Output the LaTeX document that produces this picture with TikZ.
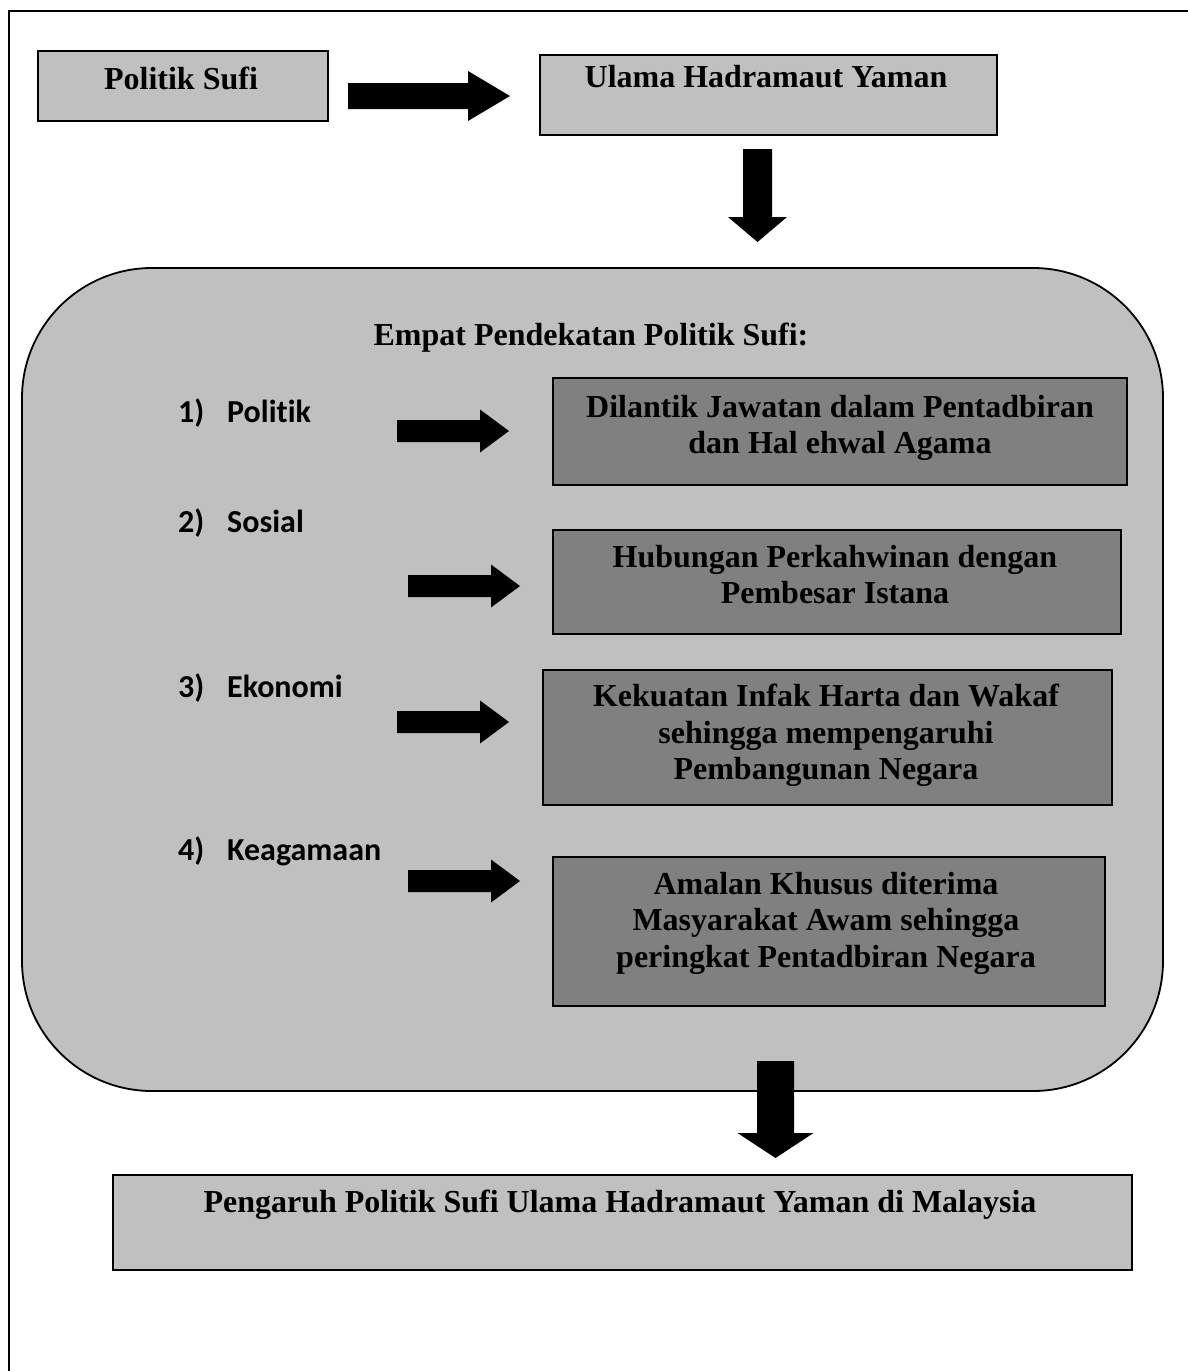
\documentclass[tikz,border=0pt]{standalone}
\usepackage{fontspec}
\setmainfont{Liberation Serif}
\newfontfamily\labelfont[Ligatures={NoCommon,NoRequired,NoContextual}]{Carlito}
\definecolor{boxlight}{HTML}{C0C0C0}
\definecolor{boxdark}{HTML}{808080}
% block arrow pointing right: tail x, centre y, head base x, tip x, shaft half, head half
\newcommand\blockright[6]{%
  \fill (#1,#2-#5) -- (#3,#2-#5) -- (#3,#2-#6) -- (#4,#2) -- (#3,#2+#6) -- (#3,#2+#5) -- (#1,#2+#5) -- cycle;}
% block arrow pointing down: centre x, tail y, head base y, tip y, shaft half, head half
\newcommand\blockdown[6]{%
  \fill (#1-#5,#2) -- (#1+#5,#2) -- (#1+#5,#3) -- (#1+#6,#3) -- (#1,#4) -- (#1-#6,#3) -- (#1-#5,#3) -- cycle;}
\begin{document}
\begin{tikzpicture}[x=1pt,y=-1pt,
  lightbox/.style={draw=black, line width=1.8pt, fill=boxlight},
  darkbox/.style={draw=black, line width=1.8pt, fill=boxdark},
  boxtext/.style={font=\fontsize{32}{36.5}\selectfont\bfseries, align=center, inner sep=0pt, anchor=north},
  itemtext/.style={font=\labelfont\fontsize{32}{38}\selectfont\bfseries, inner sep=0pt, anchor=base west}]
\useasboundingbox (0,0) rectangle (1188,1371);
\fill[white] (0,0) rectangle (1188,1371);

% frame lines
\draw[line width=1.5pt] (1188,11) -- (9,11) -- (9,1371);

% top row
\draw[lightbox] (38,51) rectangle (328,121);
\node[boxtext] (sufi) at (181,67) {Politik Sufi};
\blockright{348}{96}{468}{510}{13}{25}
\draw[lightbox] (540,55) rectangle (997,135);
\node[boxtext] (ulama) at (766,65) {Ulama Hadramaut Yaman};
\blockdown{757.5}{149}{217}{242}{14.5}{29.5}

% approaches panel
\draw[line width=1.8pt, fill=boxlight, rounded corners=130pt] (22,268) rectangle (1163,1091);
\node[boxtext] (title) at (591,323) {Empat Pendekatan Politik Sufi:};

\node[itemtext] (n1) at (178,422) {1)};
\node[itemtext] (l1) at (227,422) {Politik};
\node[itemtext] (n2) at (178,532) {2)};
\node[itemtext] (l2) at (227,532) {Sosial};
\node[itemtext] (n3) at (178,697) {3)};
\node[itemtext] (l3) at (227,697) {Ekonomi};
\node[itemtext] (n4) at (178,860) {4)};
\node[itemtext] (l4) at (227,860) {Keagamaan};

\blockright{397}{431}{480}{509}{11}{21.5}
\blockright{408}{586}{491}{520}{11}{21.5}
\blockright{397}{722}{480}{509}{11}{21.5}
\blockright{408}{881}{491}{520}{11}{21.5}

\draw[darkbox] (553,378) rectangle (1127,485);
\node[boxtext] (r1) at (840,395) {Dilantik Jawatan dalam Pentadbiran\\dan Hal ehwal Agama};
\draw[darkbox] (553,530) rectangle (1121,634);
\node[boxtext] (r2) at (835,545) {Hubungan Perkahwinan dengan\\Pembesar Istana};
\draw[darkbox] (543,670) rectangle (1112,805);
\node[boxtext] (r3) at (826,684) {Kekuatan Infak Harta dan Wakaf\\sehingga mempengaruhi\\Pembangunan Negara};
\draw[darkbox] (553,857) rectangle (1105,1006);
\node[boxtext] (r4) at (826,872) {Amalan Khusus diterima\\Masyarakat Awam sehingga\\peringkat Pentadbiran Negara};

\blockdown{775.5}{1061}{1133}{1158}{18.5}{38}

% outcome
\draw[lightbox] (113,1175) rectangle (1132,1270);
\node[boxtext] (hasil) at (620,1190) {Pengaruh Politik Sufi Ulama Hadramaut Yaman di Malaysia};
\end{tikzpicture}
\end{document}
